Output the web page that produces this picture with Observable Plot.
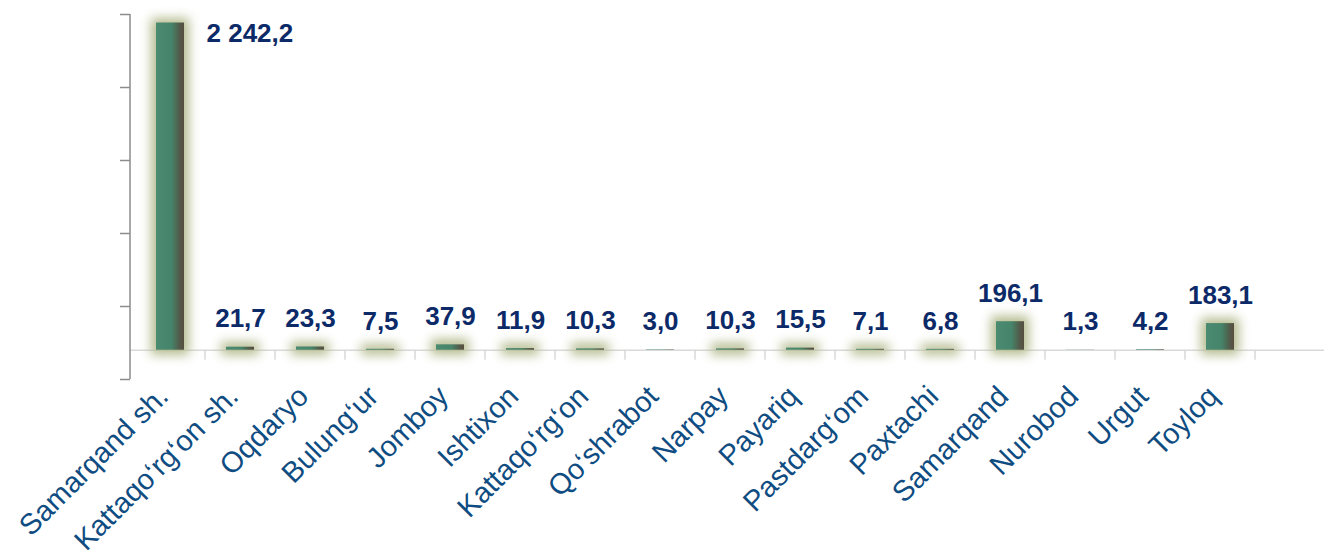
<!DOCTYPE html>
<html>
<head>
<meta charset="utf-8">
<script src="https://cdn.jsdelivr.net/npm/d3@7"></script>
<script src="https://cdn.jsdelivr.net/npm/@observablehq/plot@0.6"></script>
<style>
  html, body { margin: 0; padding: 0; background: #ffffff; }
  #chart svg { display: block; }
</style>
</head>
<body>
<div id="chart"></div>
<script>
const categories = ["Samarqand sh.", "Kattaqo‘rg‘on sh.", "Oqdaryo", "Bulung‘ur", "Jomboy", "Ishtixon", "Kattaqo‘rg‘on", "Qo‘shrabot", "Narpay", "Payariq", "Pastdarg‘om", "Paxtachi", "Samarqand", "Nurobod", "Urgut", "Toyloq"];
const values = [2242.2, 21.7, 23.3, 7.5, 37.9, 11.9, 10.3, 3.0, 10.3, 15.5, 7.1, 6.8, 196.1, 1.3, 4.2, 183.1];
const yTicks = [-200, 300, 800, 1300, 1800, 2300];

const data = categories.map((name, i) => ({name, value: values[i]}));
const maxValue = d3.max(values);
const fmt = d3.formatLocale({decimal: ",", thousands: " ", grouping: [3]}).format(",.1f");

const W = 1324, H = 558;
const font = "'Liberation Sans', Arial, sans-serif";

const chart = Plot.plot({
  width: W,
  height: H,
  marginLeft: 130,
  marginRight: 0,
  marginTop: 14,
  marginBottom: 179,
  style: {fontFamily: font, background: "#ffffff"},
  x: {domain: categories, padding: 0, range: [130, 1259], label: null},
  y: {domain: [-200, 2300], label: null},
  marks: [
    Plot.ruleY([0], {stroke: "#d9d9d9", strokeWidth: 1.5}),
    Plot.barY(data, {x: "name", y: "value", fill: "url(#barGrad)", insetLeft: 21, insetRight: 21}),
    Plot.text(data, {filter: d => d.value < maxValue, x: "name", y: "value", text: d => fmt(d.value), dy: -28, fontSize: 26, fontWeight: "bold", fill: "#0c2a68"}),
    Plot.text(data, {filter: d => d.value === maxValue, x: "name", y: "value", text: d => fmt(d.value), textAnchor: "start", dx: 36, dy: 11, fontSize: 26, fontWeight: "bold", fill: "#0c2a68"}),
    Plot.axisY({ticks: yTicks, tickSize: 10, tickFormat: () => "", stroke: "#8c8c8c", strokeWidth: 1.5}),
    Plot.axisX({tickRotate: -45, tickSize: 0, tickPadding: 12, dx: -7, color: "#0f4c81", label: null})
  ]
});

document.getElementById("chart").appendChild(chart);

const svg = d3.select(chart);
// category label size
svg.selectAll("text").filter(function() { return categories.includes(this.textContent); })
  .attr("font-size", 29).style("font-size", "29px");

// defs: gradient + glow
const defs = svg.insert("defs", ":first-child");
const g = defs.append("linearGradient").attr("id", "barGrad").attr("x1", 0).attr("x2", 1).attr("y1", 0).attr("y2", 0);
[["0%", "#4a8b71"], ["55%", "#45846b"], ["72%", "#4c6c56"], ["85%", "#53594a"], ["100%", "#574f3f"]].forEach(([o, c]) => g.append("stop").attr("offset", o).attr("stop-color", c));
const f = defs.append("filter").attr("id", "glow").attr("filterUnits", "userSpaceOnUse").attr("x", 0).attr("y", 0).attr("width", W).attr("height", H);
const ct = f.append("feComponentTransfer").attr("in", "SourceAlpha").attr("result", "a");
ct.append("feFuncA").attr("type", "discrete").attr("tableValues", "0 0 0 0 0 0 0 1 1 1");
f.append("feMorphology").attr("in", "a").attr("operator", "dilate").attr("radius", 5).attr("result", "d");
f.append("feGaussianBlur").attr("in", "d").attr("stdDeviation", 5.5).attr("result", "b");
f.append("feFlood").attr("flood-color", "#b4bc8f").attr("result", "fl");
f.append("feComposite").attr("in", "fl").attr("in2", "b").attr("operator", "in").attr("result", "gl");
const m = f.append("feMerge");
m.append("feMergeNode").attr("in", "gl");
m.append("feMergeNode").attr("in", "SourceGraphic");
svg.selectAll("g[aria-label='bar']").attr("filter", "url(#glow)");

// axis line and category boundary ticks, from Plot's scales
const xs = chart.scale("x"), ys = chart.scale("y");
const y0 = ys.apply(0);
const extra = svg.append("g");
extra.append("line")
  .attr("x1", xs.range[0]).attr("x2", xs.range[0])
  .attr("y1", ys.apply(yTicks[yTicks.length - 1])).attr("y2", ys.apply(yTicks[0]))
  .attr("stroke", "#8c8c8c").attr("stroke-width", 1.5);
const bounds = categories.slice(1).map(c => xs.apply(c)).concat([xs.apply(categories[categories.length - 1]) + xs.step]);
extra.selectAll("line.b").data(bounds).join("line").attr("class", "b")
  .attr("x1", d => d).attr("x2", d => d).attr("y1", y0).attr("y2", y0 + 10)
  .attr("stroke", "#d9d9d9").attr("stroke-width", 1.5);
</script>
</body>
</html>
